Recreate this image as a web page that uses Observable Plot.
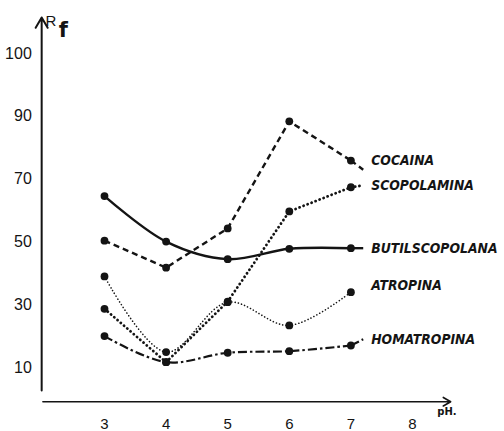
<!DOCTYPE html>
<html><head><meta charset="utf-8">
<script src="https://cdn.jsdelivr.net/npm/d3@7"></script>
<script src="https://cdn.jsdelivr.net/npm/@observablehq/plot@0.6"></script>
<style>html,body{margin:0;padding:0;background:#fff}#chart svg{display:block}</style>
</head><body><div id="chart"></div>
<script>
// ---- data (Rf x100 vs pH) ----
const pH = [3, 4, 5, 6, 7];
const seriesNames = ["COCAINA", "SCOPOLAMINA", "BUTILSCOPOLANA", "ATROPINA", "HOMATROPINA"];
const cocaina        = [50.4, 41.8, 54.3, 88.4, 75.9];
const scopolamina    = [28.7, 11.7, 31.0, 59.7, 67.4];
const butilscopolana = [64.6, 50.1, 44.5, 47.8, 48.0];
const atropina       = [39.0, 14.9, 30.8, 23.4, 34.0];
const homatropina    = [20.0, 11.7, 14.7, 15.2, 17.0];
const labelY = [76, 68, 48, 36, 19];
const xTicks = [3, 4, 5, 6, 7, 8];
const yTicks = [10, 30, 50, 70, 90, 110];
const yTickLabels = ["10", "30", "50", "70", "90", "100"];

// ---- styles ----
const seriesValues = [cocaina, scopolamina, butilscopolana, atropina, homatropina];
const styles = [
  {strokeWidth: 2.4, strokeDasharray: "6,4", linecap: "butt", curve: "linear"},
  {strokeWidth: 2.8, strokeDasharray: "0.1,4.2", linecap: "round", curve: "linear"},
  {strokeWidth: 2.4, strokeDasharray: null, linecap: "butt", curve: "catmull-rom"},
  {strokeWidth: 1.6, strokeDasharray: "0.1,3.2", linecap: "round", curve: "catmull-rom"},
  {strokeWidth: 2.2, strokeDasharray: "9,3,2.5,3", linecap: "butt", curve: "catmull-rom"}
];
const hasLeader = [true, true, true, false, true];
const labelX = 7.33, leaderX = 7.2;
const ink = "#141414";

const lineMarks = seriesValues.map((vals, s) => {
  const pts = pH.map((x, i) => ({x, y: vals[i]}));
  const st = styles[s];
  return Plot.line(pts, {x: "x", y: "y", stroke: ink, strokeWidth: st.strokeWidth,
    strokeDasharray: st.strokeDasharray, strokeLinecap: st.linecap, curve: st.curve});
});
const leaderMarks = seriesValues.map((vals, s) => hasLeader[s] ? Plot.link([0], {
  x1: pH[pH.length - 1], y1: vals[vals.length - 1], x2: leaderX, y2: labelY[s] - (s === 0 ? 3 : 0),
  stroke: ink, strokeWidth: styles[s].strokeWidth, strokeDasharray: styles[s].strokeDasharray,
  strokeLinecap: styles[s].linecap
}) : null).filter(Boolean);
const allPts = seriesValues.flatMap(vals => pH.map((x, i) => ({x, y: vals[i]})));

const chart = Plot.plot({
  width: 504, height: 431,
  x: {domain: [3, 8], range: [104, 412], axis: null},
  y: {domain: [10, 110], range: [367, 53], axis: null},
  style: {background: "#fff", overflow: "visible"},
  marks: [
    // axes
    Plot.arrow([0], {x1: 1.98, y1: 2.7, x2: 1.98, y2: 121.5, stroke: ink, strokeWidth: 2, headLength: 9, bend: 0}),
    Plot.arrow([0], {x1: 2.0, y1: -0.9, x2: 8.62, y2: -0.9, stroke: ink, strokeWidth: 1.6, headLength: 8, bend: 0}),
    Plot.text(yTicks, {x: 1.82, y: d => d, text: (d, i) => yTickLabels[i], textAnchor: "end",
      fontSize: 16, fontFamily: "Liberation Sans", fill: ink}),
    Plot.text(xTicks, {x: d => d, y: -7.9, text: d => String(d), fontSize: 15,
      fontFamily: "Liberation Sans", fill: ink}),
    Plot.text(["pH."], {x: 8.56, y: -4.2, text: d => d, fontSize: 10, fontWeight: "bold",
      fontFamily: "DejaVu Sans", fill: ink}),
    Plot.text(["R"], {x: 2.13, y: 120.3, text: d => d, fontSize: 15, fontFamily: "Liberation Sans", fill: ink}),
    Plot.text(["f"], {x: 2.33, y: 117.4, text: d => d, fontSize: 21, fontWeight: "bold",
      fontFamily: "DejaVu Sans", fill: ink}),
    ...lineMarks,
    ...leaderMarks,
    Plot.dot(allPts, {x: "x", y: "y", r: 3.9, fill: ink, stroke: "none"}),
    Plot.text(seriesNames, {x: labelX, y: (d, i) => labelY[i], text: d => d, textAnchor: "start",
      fontSize: 13.8, fontStyle: "italic", fontWeight: "bold", fontFamily: "DejaVu Sans Condensed", fill: ink})
  ]
});
document.getElementById("chart").append(chart);
</script>
</body></html>
